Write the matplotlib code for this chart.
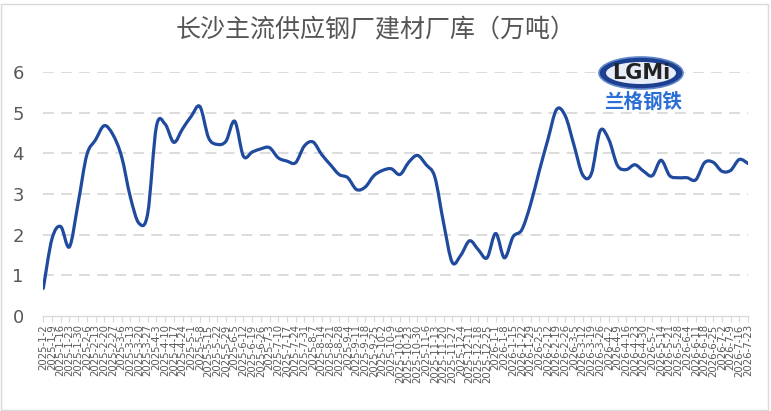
import matplotlib
matplotlib.use("Agg")
import matplotlib.pyplot as plt
from matplotlib.path import Path
from matplotlib.patches import PathPatch, Ellipse, Rectangle
import numpy as np
import pandas as pd

plt.rcParams['font.family'] = ['Noto Sans CJK SC', 'DejaVu Sans']

# 周度日期标签
dates = pd.date_range("2025-01-02", "2026-07-23", freq="7D")
date_labels = [f"{d.year}-{d.month}-{d.day}" for d in dates]

# 库存（万吨）
stock = [
    0.68, 1.90, 2.20, 1.70, 2.77, 3.96, 4.33, 4.68, 4.46, 3.92,
    2.93, 2.28, 2.52, 4.66, 4.72, 4.27, 4.60, 4.91, 5.15, 4.38,
    4.22, 4.30, 4.79, 3.93, 4.03, 4.11, 4.14, 3.89, 3.81, 3.77,
    4.18, 4.28, 3.97, 3.72, 3.48, 3.40, 3.11, 3.17, 3.45, 3.58,
    3.62, 3.48, 3.78, 3.95, 3.72, 3.42, 2.30, 1.32, 1.50, 1.85,
    1.63, 1.43, 2.03, 1.43, 1.95, 2.12, 2.74, 3.56, 4.34, 5.08,
    4.92, 4.20, 3.47, 3.50, 4.55, 4.34, 3.70, 3.60, 3.72, 3.56,
    3.45, 3.83, 3.45, 3.40, 3.40, 3.35, 3.77, 3.78, 3.56, 3.58,
    3.85, 3.75,
]

title = "长沙主流供应钢厂建材厂库（万吨）"
yticks = [0, 1, 2, 3, 4, 5, 6]

W, H = 771, 411
fig = plt.figure(figsize=(W / 100, H / 100), dpi=100)
ax = fig.add_axes([43.3 / W, 1 - 316 / H, (748 - 43.3) / W, (316 - 72) / H])

# 平滑曲线（Catmull-Rom -> Bezier）
x = np.arange(len(stock), dtype=float)
y = np.array(stock)
pts = np.column_stack([x, y])
verts = [pts[0]]
codes = [Path.MOVETO]
n = len(pts)
for i in range(n - 1):
    p0 = pts[max(i - 1, 0)]
    p1 = pts[i]
    p2 = pts[i + 1]
    p3 = pts[min(i + 2, n - 1)]
    c1 = p1 + (p2 - p0) / 6
    c2 = p2 - (p3 - p1) / 6
    verts += [c1, c2, p2]
    codes += [Path.CURVE4] * 3
ax.add_patch(PathPatch(Path(verts, codes), fill=False, edgecolor='#1F4A9E',
                       lw=2.3, capstyle='round', joinstyle='round', zorder=3))

ax.set_xlim(0, len(stock) - 1)
ax.set_ylim(0, 6)
ax.set_yticks(yticks)
ax.set_yticklabels([str(t) for t in yticks], fontsize=13, color='#595959',
                   family='DejaVu Sans')
ax.set_xticks(x)
ax.set_xticklabels(date_labels, rotation=90, fontsize=7.3, color='#595959',
                   family='DejaVu Sans')
ax.tick_params(axis='y', length=0, pad=14)
ax.tick_params(axis='x', length=4, color='#d9d9d9', width=0.8, pad=2)

for t in yticks[1:]:
    ax.axhline(t, color='#d9d9d9', lw=1.3, ls=(0, (6, 4)), zorder=1)

for s in ['left', 'right', 'top']:
    ax.spines[s].set_visible(False)
ax.spines['bottom'].set_color('#d9d9d9')
ax.spines['bottom'].set_linewidth(1.0)

fig.text(376 / W, 1 - 30 / H, title, ha='center', va='center',
         fontsize=18, color='#555555', fontweight='medium')

# 兰格钢铁 logo
lx, ly = 641 / W, 1 - 73 / H
fig.patches.append(Ellipse((lx, ly), 84 / W, 32 / H, transform=fig.transFigure,
                           facecolor='#1d3f8f', edgecolor='#5d86c9', lw=1.2))
fig.patches.append(Ellipse((lx, ly), 70 / W, 22 / H, transform=fig.transFigure,
                           facecolor='#e8eef8', edgecolor='none'))
fig.text(lx, ly, "LGMi", ha='center', va='center', fontsize=15,
         fontweight='bold', color='#222222', family='DejaVu Sans')
fig.text(643 / W, 1 - 102 / H, "兰格钢铁", ha='center', va='center',
         fontsize=14, fontweight='bold', color='#2a6fd6')

# 图表外框
fig.patches.append(Rectangle((1 / W, 1 / H), 1 - 4 / W, 1 - 5 / H,
                             transform=fig.transFigure, fill=False,
                             edgecolor='#d9d9d9', lw=1))

fig.savefig("out.png", dpi=100)
